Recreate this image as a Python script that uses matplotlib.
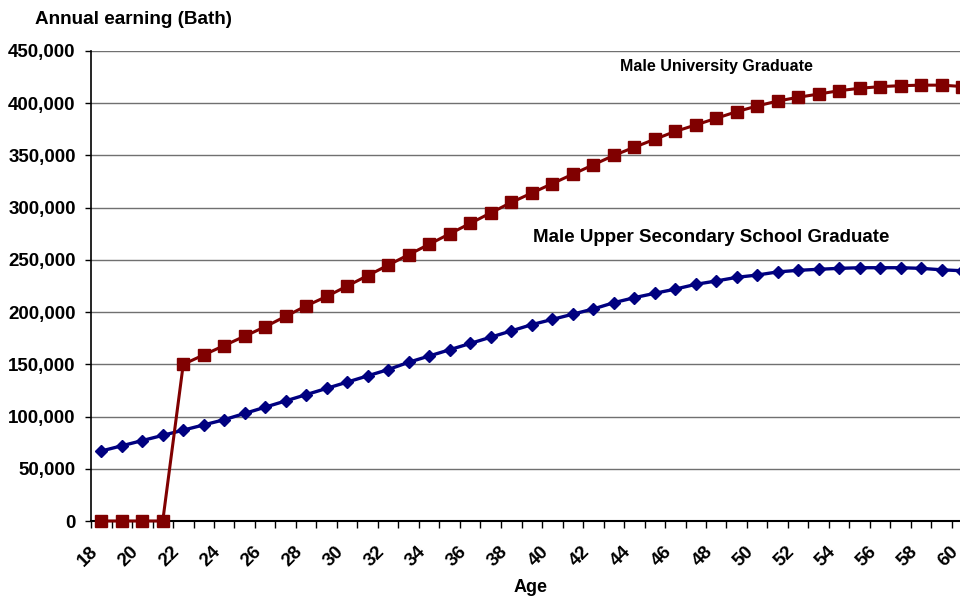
import numpy as np
import matplotlib
matplotlib.use('Agg')
import matplotlib.pyplot as plt

plt.rcParams['font.family'] = ['Liberation Sans', 'DejaVu Sans']
plt.rcParams['font.weight'] = 'bold'

# Data
ages = list(range(18, 61))

secondary = [67000, 72000, 77000, 82000, 87000, 92000, 97000, 103000, 109000, 115000,
             121000, 127000, 133000, 139000, 145000, 152000, 158000, 164000, 170000, 176000,
             182000, 188000, 193000, 198000, 203000, 209000, 213800, 218000, 222000, 226600,
             229800, 233300, 235500, 238500, 240000, 241000, 241900, 242500, 242500, 242500,
             241900, 240500, 239600]

university = [0, 0, 0, 0, 150000, 159000, 168000, 177000, 186000, 196000,
              206000, 215000, 225000, 235000, 245000, 255000, 265000, 275000, 285000, 295000,
              305000, 314000, 323000, 332000, 341000, 350000, 357800, 365500, 373000, 379200,
              385600, 391900, 397400, 402100, 405700, 408800, 412000, 414300, 415900, 416800,
              417300, 417300, 416000]

x_labels = [str(a) if a % 2 == 0 else '' for a in ages]

fig = plt.figure(figsize=(9.6, 5.97), dpi=100)
# the plot area runs past the right edge of the picture, as in the reference
ax = fig.add_axes([91 / 960, 1 - 521 / 597, 881.5 / 960, 470 / 597])

ax.plot(ages, secondary, color='#000080', lw=2.4, marker='D', ms=6.4,
        mec='#000080', mfc='#000080', zorder=3, clip_on=False)
ax.plot(ages, university, color='#800000', lw=2.2, marker='s', ms=9,
        mec='#800000', mfc='#800000', zorder=4, clip_on=False)

ax.set_xlim(17.5, 60.5)
ax.set_ylim(0, 450000)

ax.set_yticks(np.arange(0, 450001, 50000))
ax.set_yticklabels(['{:,}'.format(v) for v in range(0, 450001, 50000)])
ax.grid(axis='y', color='#707070', lw=1)
ax.set_axisbelow(True)

# rotated labels end a little left of each category centre (Excel style)
ax.set_xticks(np.array(ages) - 0.3)
ax.set_xticklabels(x_labels, rotation=45, ha='right', va='center',
                   rotation_mode='anchor')
ax.set_xticks(np.arange(17.5, 61, 1), minor=True)
ax.tick_params(axis='x', which='major', length=0, pad=20, labelsize=13.5)
ax.tick_params(axis='x', which='minor', length=5, width=1, direction='out')
ax.tick_params(axis='y', length=4, width=1, pad=7, labelsize=13.5)

for s in ['top', 'right']:
    ax.spines[s].set_visible(False)
ax.spines['left'].set_linewidth(1.2)
ax.spines['bottom'].set_linewidth(1.5)

ax.text(43.3, 434700, 'Male University Graduate', fontsize=11.5,
        fontweight='bold', va='center', ha='left')
ax.text(39.06, 271000, 'Male Upper Secondary School Graduate', fontsize=13.5,
        fontweight='bold', va='center', ha='left')

fig.text(35 / 960, 1 - 20 / 597, 'Annual earning (Bath)', fontsize=13.6,
         fontweight='bold', va='center', ha='left')
fig.text(531 / 960, 1 - 588 / 597, 'Age', fontsize=13,
         fontweight='bold', va='center', ha='center')

fig.savefig('out.png', dpi=100)
